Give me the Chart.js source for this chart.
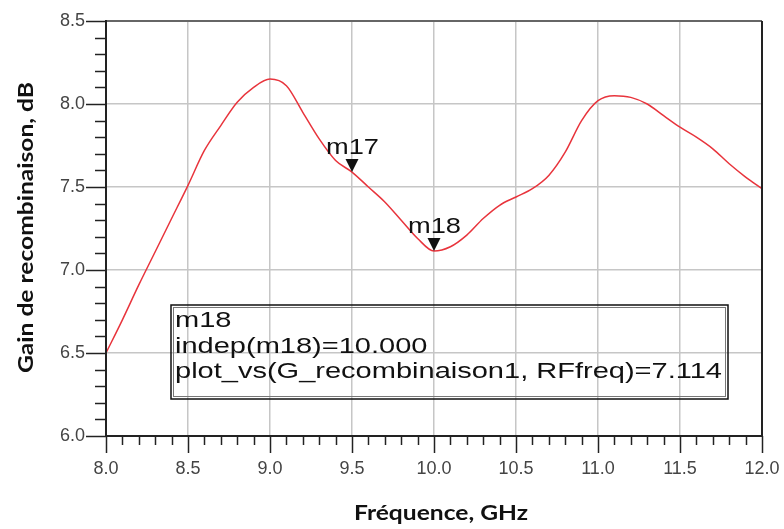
<!DOCTYPE html>
<html>
<head>
<meta charset="utf-8">
<script src="https://cdn.jsdelivr.net/npm/chart.js@4.4.1/dist/chart.umd.min.js"></script>
<style>
  body { margin: 0; background: #fff; }
  canvas { display: block; }
</style>
</head>
<body>
<canvas id="gainChart" width="784" height="529"></canvas>
<script>
// frequency points (GHz) and gain (dB)
const freqs = [8.0, 8.1, 8.2, 8.3, 8.4, 8.5, 8.6, 8.7, 8.8, 8.9,
               9.0, 9.1, 9.2, 9.3, 9.4, 9.5, 9.6, 9.7, 9.8, 9.9,
               10.0, 10.1, 10.2, 10.3, 10.4, 10.5, 10.6, 10.7, 10.8, 10.9,
               11.0, 11.1, 11.2, 11.3, 11.4, 11.5, 11.6, 11.7, 11.8, 11.9, 12.0];
const gains = [6.50, 6.70, 6.91, 7.11, 7.31, 7.51, 7.72, 7.87, 8.01, 8.10,
               8.15, 8.11, 7.95, 7.79, 7.66, 7.59, 7.50, 7.41, 7.30, 7.19,
               7.114, 7.14, 7.21, 7.31, 7.39, 7.44, 7.49, 7.57, 7.71, 7.90,
               8.02, 8.05, 8.04, 8.00, 7.93, 7.86, 7.80, 7.73, 7.64, 7.56, 7.49];

// markers
const markerNames = ['m17', 'm18'];
const markerFreqs = [9.5, 10.0];
const markerGains = [7.59, 7.114];

// readout box text
const readoutLines = ['m18', 'indep(m18)=10.000', 'plot_vs(G_recombinaison1, RFfreq)=7.114'];

const xTitle = 'Fréquence, GHz';
const yTitle = 'Gain de recombinaison, dB';

const isMajor = v => Math.abs(v * 2 - Math.round(v * 2)) < 1e-6;

// draw text squeezed/stretched to a given width
function fitText(ctx, text, x, y, width) {
    const w = ctx.measureText(text).width;
    ctx.save();
    ctx.translate(x, y);
    ctx.scale(width / w, 1);
    ctx.fillText(text, 0, 0);
    ctx.restore();
}

const decorPlugin = {
    id: 'decor',
    afterDatasetsDraw(chart) {
        const ctx = chart.ctx;
        const a = chart.chartArea;
        const xs = chart.scales.x, ys = chart.scales.y;
        ctx.save();

        // frame
        ctx.lineWidth = 2;
        ctx.strokeStyle = '#666';
        ctx.beginPath(); ctx.moveTo(a.left, a.top); ctx.lineTo(a.right, a.top); ctx.stroke();
        ctx.strokeStyle = '#222';
        ctx.beginPath(); ctx.moveTo(a.right, a.top); ctx.lineTo(a.right, a.bottom); ctx.stroke();
        ctx.beginPath(); ctx.moveTo(a.left, a.top - 1); ctx.lineTo(a.left, a.bottom); ctx.lineTo(a.right + 1, a.bottom); ctx.stroke();

        // tick marks
        ctx.lineWidth = 1.5;
        ys.ticks.forEach(t => {
            const py = Math.round(ys.getPixelForValue(t.value)) + 0.5;
            const len = isMajor(t.value) ? 20 : 11;
            ctx.beginPath(); ctx.moveTo(a.left - len, py); ctx.lineTo(a.left, py); ctx.stroke();
        });
        xs.ticks.forEach(t => {
            const px = Math.round(xs.getPixelForValue(t.value)) + 0.5;
            const len = isMajor(t.value) ? 17 : 9;
            ctx.beginPath(); ctx.moveTo(px, a.bottom); ctx.lineTo(px, a.bottom + len); ctx.stroke();
        });

        // markers
        ctx.fillStyle = '#111';
        ctx.font = '22px "Liberation Sans", Arial, sans-serif';
        ctx.textAlign = 'left';
        ctx.textBaseline = 'alphabetic';
        markerNames.forEach((name, i) => {
            const px = xs.getPixelForValue(markerFreqs[i]);
            const py = ys.getPixelForValue(markerGains[i]);
            ctx.beginPath();
            ctx.moveTo(px, py);
            ctx.lineTo(px - 6.5, py - 13);
            ctx.lineTo(px + 6.5, py - 13);
            ctx.closePath();
            ctx.fill();
            fitText(ctx, name, px - 26, py - 18, 53);
        });

        // readout box
        const bx = 171, by = 305, bw = 557, bh = 94;
        ctx.strokeStyle = '#111';
        ctx.lineWidth = 1.5;
        ctx.strokeRect(bx, by, bw, bh);
        ctx.strokeStyle = '#777';
        ctx.lineWidth = 1;
        ctx.strokeRect(bx + 2.5, by + 2.5, bw - 5, bh - 5);
        ctx.font = '22px "Liberation Sans", Arial, sans-serif';
        const longest = ctx.measureText(readoutLines[2]).width;
        const sx = 547 / longest;
        readoutLines.forEach((line, i) => {
            fitText(ctx, line, 175, 327 + i * 25.5, ctx.measureText(line).width * sx);
        });

        // axis titles
        ctx.font = 'bold 20px Lato, "Open Sans", sans-serif';
        ctx.fillStyle = '#111';
        fitText(ctx, xTitle, 354, 520, 174);
        ctx.save();
        ctx.translate(33, 373);
        ctx.rotate(-Math.PI / 2);
        fitText(ctx, yTitle, 0, 0, 291);
        ctx.restore();

        ctx.restore();
    }
};

new Chart(document.getElementById('gainChart'), {
    type: 'line',
    data: {
        datasets: [{
            data: freqs.map((f, i) => ({ x: f, y: gains[i] })),
            borderColor: '#e8343c',
            borderWidth: 1.5,
            pointRadius: 0,
            cubicInterpolationMode: 'monotone',
            fill: false
        }]
    },
    options: {
        responsive: false,
        animation: false,
        devicePixelRatio: 1,
        layout: { padding: { left: 0, right: 22, top: 21, bottom: 0 } },
        plugins: {
            legend: { display: false },
            tooltip: { enabled: false }
        },
        scales: {
            x: {
                type: 'linear',
                min: 8, max: 12,
                afterFit: s => { s.height = 93; s.paddingLeft = 0; s.paddingRight = 0; },
                border: { display: false },
                grid: {
                    drawTicks: false,
                    lineWidth: 1.5,
                    color: c => isMajor(c.tick.value) ? '#c6c6c6' : 'rgba(0,0,0,0)'
                },
                ticks: {
                    stepSize: 0.1,
                    autoSkip: false,
                    maxRotation: 0,
                    padding: 22,
                    color: '#444',
                    font: { family: '"Liberation Sans", Arial, sans-serif', size: 18 },
                    callback: v => isMajor(v) ? v.toFixed(1) : ''
                }
            },
            y: {
                min: 6, max: 8.5,
                afterFit: s => { s.width = 106; s.paddingTop = 0; s.paddingBottom = 0; },
                border: { display: false },
                grid: {
                    drawTicks: false,
                    lineWidth: 1.5,
                    color: c => isMajor(c.tick.value) ? '#c6c6c6' : 'rgba(0,0,0,0)'
                },
                ticks: {
                    stepSize: 0.1,
                    autoSkip: false,
                    padding: 21,
                    color: '#444',
                    font: { family: '"Liberation Sans", Arial, sans-serif', size: 18 },
                    callback: v => isMajor(v) ? v.toFixed(1) : ''
                }
            }
        }
    },
    plugins: [decorPlugin]
});
</script>
</body>
</html>
